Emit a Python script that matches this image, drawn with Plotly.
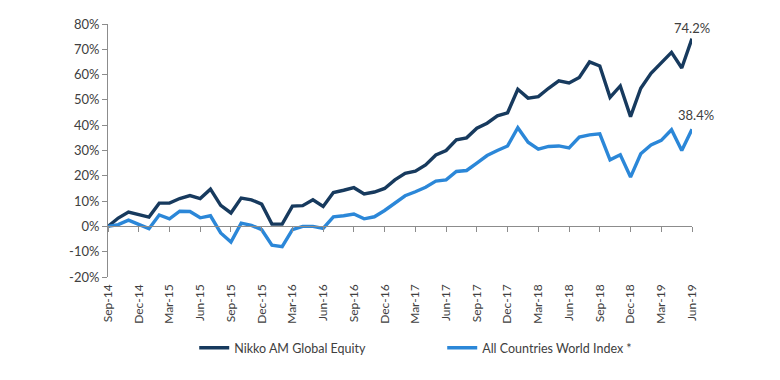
import plotly.graph_objects as go

tick_labels = ["Sep-14", "Dec-14", "Mar-15", "Jun-15", "Sep-15", "Dec-15", "Mar-16",
               "Jun-16", "Sep-16", "Dec-16", "Mar-17", "Jun-17", "Sep-17", "Dec-17",
               "Mar-18", "Jun-18", "Sep-18", "Dec-18", "Mar-19", "Jun-19"]

y_ticks = [-20, -10, 0, 10, 20, 30, 40, 50, 60, 70, 80]

nikko = [0.0, 3.3, 5.7, 4.6, 3.7, 9.2, 9.2, 11.0, 12.2, 11.0,
         14.7, 8.3, 5.3, 11.2, 10.5, 8.8, 0.9, 0.9, 8.0, 8.2,
         10.5, 7.9, 13.4, 14.3, 15.3, 12.8, 13.6, 15.0, 18.4, 21.0,
         21.8, 24.3, 28.2, 30.0, 34.2, 35.0, 38.8, 40.8, 43.7, 44.9,
         54.2, 50.7, 51.3, 54.6, 57.5, 56.7, 58.9, 65.0, 63.4, 51.0,
         55.5, 43.4, 54.6, 60.5, 64.5, 68.8, 62.6, 74.2]

acwi = [0.0, 0.7, 2.5, 0.7, -0.9, 4.5, 3.0, 6.0, 5.9, 3.4,
        4.2, -2.6, -6.2, 1.3, 0.4, -1.3, -7.4, -8.0, -1.3, 0.0,
        0.0, -0.8, 3.8, 4.2, 4.9, 3.0, 3.8, 6.3, 9.2, 12.1,
        13.7, 15.5, 17.9, 18.4, 21.7, 22.1, 25.0, 28.0, 30.0, 31.8,
        39.0, 33.3, 30.5, 31.6, 31.8, 31.0, 35.3, 36.2, 36.6, 26.3,
        28.3, 19.5, 28.7, 32.2, 34.0, 38.2, 30.0, 38.4]

series_names = ["Nikko AM Global Equity", "All Countries World Index *"]
series_colors = ["#173A5E", "#2B87D8"]

months = list(range(len(nikko)))
tickvals = months[::3]
font_family = "Lato, 'Open Sans', sans-serif"
text_color = "#404040"
axis_color = "#8C8C8C"

fig = go.Figure()
for name, vals, col in zip(series_names, [nikko, acwi], series_colors):
    fig.add_trace(go.Scatter(x=months, y=vals, mode="lines", name=name,
                             line=dict(color=col, width=3.4), hoverinfo="skip"))
# helper trace so the zero-line axis with tick marks is drawn
fig.add_trace(go.Scatter(x=[months[0]], y=[0], xaxis="x2", mode="markers",
                         marker=dict(opacity=0), showlegend=False, hoverinfo="skip"))

for vals, ys, xs in [(nikko, 11, 0), (acwi, 14, 4)]:
    fig.add_annotation(x=months[-1], y=vals[-1], text=f"{vals[-1]:.1f}%",
                       showarrow=False, yshift=ys, xshift=xs,
                       font=dict(size=13, color=text_color, family=font_family))

fig.update_layout(
    width=780, height=380,
    margin=dict(l=108, r=88, t=24, b=103, autoexpand=False),
    paper_bgcolor="white", plot_bgcolor="white",
    font=dict(family=font_family, size=12, color=text_color),
    showlegend=True,
    legend=dict(orientation="h", xref="container", yref="container",
                x=0.249, y=0.084, xanchor="left", yanchor="middle",
                entrywidth=203, entrywidthmode="pixels",
                font=dict(size=12.5, color=text_color, family=font_family),
                bgcolor="rgba(0,0,0,0)"),
    xaxis=dict(range=[0, len(nikko) - 1], tickmode="array", tickvals=tickvals,
               ticktext=tick_labels, tickangle=-90, showline=False, ticks="",
               showgrid=False, zeroline=False, ticklabelstandoff=4, automargin=False,
               tickfont=dict(size=12, color=text_color)),
    xaxis2=dict(range=[0, len(nikko) - 1], overlaying="x", anchor="free",
                position=0.2, side="bottom", tickmode="array", tickvals=tickvals,
                showticklabels=False, showline=True, linecolor=axis_color,
                linewidth=1, ticks="outside", ticklen=5, tickcolor=axis_color,
                showgrid=False, zeroline=False, automargin=False),
    yaxis=dict(range=[-20, 80], tickmode="array", tickvals=y_ticks,
               ticktext=[f"{v}%" for v in y_ticks],
               showline=True, linecolor=axis_color, linewidth=1, automargin=False,
               ticks="outside", ticklen=5, tickcolor=axis_color, showgrid=False,
               zeroline=False, tickfont=dict(size=13, color=text_color)),
)

fig.write_html("out.html", config={"displayModeBar": False, "staticPlot": True},
               post_script="document.body.style.margin='0';")
